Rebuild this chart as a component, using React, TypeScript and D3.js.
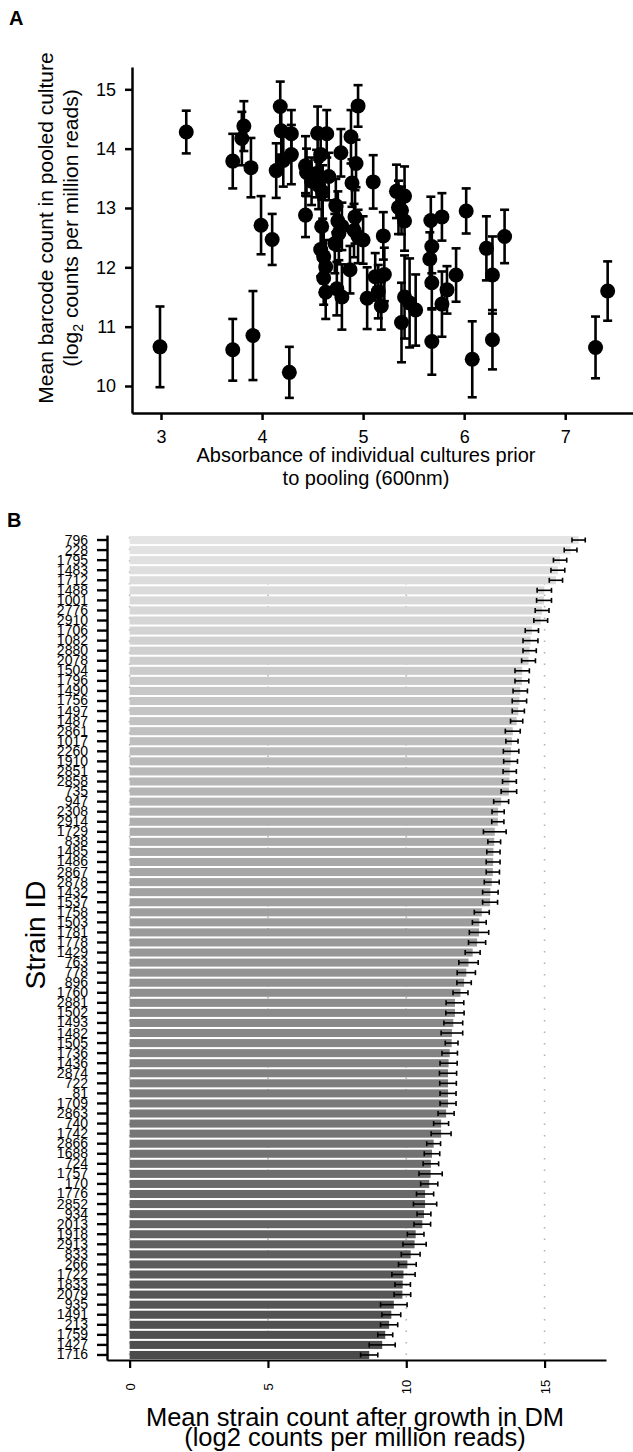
import React, { useEffect, useRef } from "react";
import * as d3 from "d3";

const W = 633;
const H = 1452;
const FONT = "'Liberation Sans', Arial, Helvetica, sans-serif";

// Panel A: absorbance vs pooled barcode count
const absorbance = [
  2.99, 3.25, 3.71, 3.71, 3.82, 3.8, 3.89, 3.91, 3.99, 4.1, 4.18, 4.14, 4.19, 4.29,
  4.21, 4.29, 4.27, 4.43, 4.43, 4.44, 4.49, 4.55, 4.58, 4.54, 4.56, 4.6, 4.64, 4.66,
  4.59, 4.58, 4.61, 4.63, 4.61, 4.63, 4.73, 4.75, 4.76, 4.72, 4.78, 4.79, 4.74, 4.79,
  4.87, 4.88, 4.89, 4.93, 4.95, 4.92, 4.91, 4.95, 5.0, 5.1, 5.04, 5.12, 5.15, 5.18,
  5.21, 5.2, 5.33, 5.35, 5.38, 5.41, 5.41, 5.38, 5.41, 5.46, 5.52, 5.67, 5.68, 5.66,
  5.68, 5.68, 5.78, 5.78, 5.83, 5.92, 6.02, 6.08, 6.22, 6.28, 6.28, 6.4, 7.3, 7.42
];
const barcodeMean = [
  10.66, 14.28, 13.79, 10.61, 14.38, 14.17, 13.68, 10.85, 12.71, 12.47, 14.71, 13.63, 14.3, 14.25,
  13.8, 13.9, 10.23, 12.88, 13.71, 13.6, 13.45, 14.26, 13.9, 13.58, 13.38, 13.27, 14.25, 13.53,
  12.69, 12.3, 12.18, 12.01, 11.82, 11.58, 13.04, 12.78, 12.57, 12.4, 13.93, 12.69, 11.64, 11.5,
  11.96, 14.2, 13.42, 13.75, 14.72, 12.85, 12.62, 12.52, 12.46, 13.44, 11.48, 11.84, 11.59, 11.35,
  11.88, 12.53, 13.28, 13.01, 12.96, 13.2, 12.78, 11.07, 11.5, 11.4, 11.28, 12.79, 12.35, 12.14,
  11.74, 10.75, 12.85, 11.38, 11.62, 11.87, 12.95, 10.45, 12.32, 11.87, 10.78, 12.52, 10.65, 11.6
];
const barcodeErr = [
  0.68, 0.36, 0.46, 0.52, 0.42, 0.45, 0.5, 0.75, 0.49, 0.43, 0.42, 0.46, 0.4, 0.4,
  0.44, 0.5, 0.43, 0.37, 0.5, 0.4, 0.4, 0.45, 0.4, 0.4, 0.4, 0.45, 0.4, 0.4,
  0.45, 0.45, 0.45, 0.45, 0.45, 0.45, 0.45, 0.5, 0.45, 0.5, 0.4, 0.4, 0.45, 0.55,
  0.4, 0.45, 0.4, 0.4, 0.35, 0.45, 0.45, 0.45, 0.4, 0.45, 0.52, 0.4, 0.45, 0.4,
  0.45, 0.4, 0.45, 0.45, 0.4, 0.5, 0.5, 0.67, 0.7, 0.75, 0.6, 0.4, 0.45, 0.45,
  0.45, 0.56, 0.4, 0.55, 0.4, 0.45, 0.38, 0.64, 0.54, 0.65, 0.5, 0.45, 0.52, 0.5
];
const absTicks = [3, 4, 5, 6, 7];
const barcodeTicks = [10, 11, 12, 13, 14, 15];

// Panel B: strain counts after growth in DM
const strainIds = [
  "796", "228", "1795", "1483", "1712", "1488", "1001", "2776", "2910", "1706", "1082", "2880",
  "2078", "1504", "1796", "1490", "1756", "1497", "1487", "2861", "1017", "2260", "1910", "2851",
  "2858", "735", "947", "2308", "2914", "1729", "838", "1485", "1486", "2867", "2878", "1432",
  "1537", "1758", "1503", "1781", "1778", "1429", "763", "778", "896", "1760", "2881", "1502",
  "1493", "1482", "1505", "1736", "1436", "2874", "722", "81", "1709", "2863", "740", "1742",
  "2866", "1688", "724", "1757", "170", "1776", "2852", "934", "2013", "1918", "2913", "833",
  "266", "1722", "1833", "2079", "935", "1491", "213", "1759", "1427", "1716"
];
const strainMean = [
  16.23, 15.94, 15.56, 15.48, 15.41, 14.99, 14.98, 14.91, 14.86, 14.54, 14.49, 14.46,
  14.42, 14.19, 14.18, 14.12, 14.09, 14.05, 13.99, 13.85, 13.82, 13.79, 13.77, 13.74,
  13.73, 13.71, 13.43, 13.32, 13.31, 13.2, 13.18, 13.15, 13.14, 13.13, 13.09, 13.04,
  13.03, 12.73, 12.64, 12.63, 12.56, 12.4, 12.25, 12.17, 12.09, 11.96, 11.76, 11.76,
  11.7, 11.65, 11.64, 11.57, 11.53, 11.51, 11.51, 11.51, 11.51, 11.44, 11.26, 11.26,
  10.99, 10.93, 10.89, 10.88, 10.83, 10.68, 10.68, 10.64, 10.58, 10.34, 10.3, 10.16,
  10.04, 9.9, 9.87, 9.86, 9.55, 9.46, 9.38, 9.24, 9.13, 8.66
];
const strainErr = [
  0.24, 0.23, 0.24, 0.25, 0.24, 0.26, 0.27, 0.25, 0.25, 0.24, 0.27, 0.24,
  0.25, 0.26, 0.25, 0.26, 0.26, 0.22, 0.22, 0.27, 0.22, 0.28, 0.25, 0.24,
  0.25, 0.28, 0.27, 0.22, 0.22, 0.41, 0.23, 0.24, 0.25, 0.24, 0.27, 0.28,
  0.27, 0.27, 0.25, 0.35, 0.31, 0.27, 0.35, 0.33, 0.26, 0.27, 0.32, 0.33,
  0.34, 0.39, 0.23, 0.28, 0.31, 0.31, 0.3, 0.29, 0.29, 0.29, 0.27, 0.36,
  0.25, 0.28, 0.28, 0.42, 0.31, 0.31, 0.42, 0.25, 0.3, 0.3, 0.42, 0.34,
  0.32, 0.42, 0.28, 0.3, 0.48, 0.34, 0.31, 0.27, 0.47, 0.31
];
const countTicks = [0, 5, 10, 15];

const xA = d3.scaleLinear().domain([2.713, 7.74]).range([132, 640]);
const yA = d3.scaleLinear().domain([9.545, 15.376]).range([413, 67]);

const xB = d3.scaleLinear().domain([-0.818, 17.22]).range([107, 606]);
const yB = d3.scaleBand().domain(strainIds).range([535, 1360]).paddingInner(0.2).paddingOuter(0.1);
const shade = d3.scaleLinear<string>().domain([0, strainIds.length - 1]).range(["#e4e4e4", "#4b4b4b"]);

function styleAxis(g, size, width) {
  g.attr("font-family", FONT).attr("font-size", size);
  g.selectAll("path").attr("stroke", "#000").attr("stroke-width", width);
  g.selectAll("line").attr("stroke", "#000").attr("stroke-width", width);
  g.selectAll("text").attr("fill", "#000");
}

export default function App() {
  const axBottom = useRef(null);
  const axLeft = useRef(null);
  const bxBottom = useRef(null);
  const bxLeft = useRef(null);

  useEffect(() => {
    const ga = d3.select(axBottom.current)
      .call(d3.axisBottom(xA).tickValues(absTicks).tickFormat(d3.format("d"))
        .tickSizeInner(7).tickSizeOuter(0).tickPadding(10));
    styleAxis(ga, 18, 2.5);

    const gl = d3.select(axLeft.current)
      .call(d3.axisLeft(yA).tickValues(barcodeTicks).tickFormat(d3.format("d"))
        .tickSizeInner(7).tickSizeOuter(0).tickPadding(9));
    styleAxis(gl, 18, 2.5);

    const gb = d3.select(bxBottom.current)
      .call(d3.axisBottom(xB).tickValues(countTicks).tickFormat(d3.format("d"))
        .tickSizeInner(8).tickSizeOuter(0));
    styleAxis(gb, 13, 2.2);
    gb.selectAll("text")
      .attr("transform", "rotate(-90)")
      .attr("x", -27)
      .attr("y", 0)
      .attr("dy", "0.35em")
      .attr("text-anchor", "middle");

    // strain labels overlap in the original figure too (10px rows)
    const gbl = d3.select(bxLeft.current)
      .call(d3.axisLeft(yB).tickSizeInner(10).tickSizeOuter(0).tickPadding(9));
    styleAxis(gbl, 14, 2.4);
  }, []);

  const capA = 4.5;
  const capB = 2.5;

  return (
    <div style={{ position: "absolute", left: 0, top: 0 }}>
      <svg width={W} height={H} style={{ display: "block", background: "#fff" }} fontFamily={FONT}>
        {/* Panel A */}
        <text x={9} y={25} fontSize={20} fontWeight="bold">A</text>
        <g>
          {absorbance.map((a, i) => {
            const cx = xA(a);
            const lo = yA(barcodeMean[i] - barcodeErr[i]);
            const hi = yA(barcodeMean[i] + barcodeErr[i]);
            return (
              <g key={"e" + i} stroke="#000" strokeWidth={2.6}>
                <line x1={cx} x2={cx} y1={lo} y2={hi} />
                <line x1={cx - capA} x2={cx + capA} y1={lo} y2={lo} />
                <line x1={cx - capA} x2={cx + capA} y1={hi} y2={hi} />
              </g>
            );
          })}
          {absorbance.map((a, i) => (
            <circle key={"p" + i} cx={xA(a)} cy={yA(barcodeMean[i])} r={7.5} fill="#000" />
          ))}
        </g>
        <g ref={axBottom} transform={`translate(0,${yA.range()[0]})`} />
        <g ref={axLeft} transform={`translate(${xA.range()[0]},0)`} />
        <text transform="translate(53,228) rotate(-90)" textAnchor="middle" fontSize={21}>
          Mean barcode count in pooled culture
        </text>
        <text transform="translate(78,228) rotate(-90)" textAnchor="middle" fontSize={21}>
          (log<tspan fontSize={14} dy={5}>2</tspan><tspan dy={-5}> counts per million reads)</tspan>
        </text>
        <text x={366} y={462} textAnchor="middle" fontSize={20}>Absorbance of individual cultures prior</text>
        <text x={366} y={485} textAnchor="middle" fontSize={20}>to pooling (600nm)</text>

        {/* Panel B */}
        <text x={7} y={527} fontSize={20} fontWeight="bold">B</text>
        <g>
          {countTicks.map((t) => (
            <line key={"g" + t} x1={xB(t)} x2={xB(t)} y1={537} y2={1358}
              stroke="#b4b4b4" strokeWidth={1.6} strokeDasharray="1.5,10" />
          ))}
          {strainIds.map((id, i) => (
            <rect key={"b" + id} x={xB(0)} y={yB(id)} width={xB(strainMean[i]) - xB(0)}
              height={yB.bandwidth()} fill={shade(i)} />
          ))}
          {strainIds.map((id, i) => {
            const cy = yB(id) + yB.bandwidth() / 2;
            const lo = xB(strainMean[i] - strainErr[i]);
            const hi = xB(strainMean[i] + strainErr[i]);
            return (
              <g key={"be" + id} stroke="#000" strokeWidth={1.6}>
                <line x1={lo} x2={hi} y1={cy} y2={cy} />
                <line x1={lo} x2={lo} y1={cy - capB} y2={cy + capB} />
                <line x1={hi} x2={hi} y1={cy - capB} y2={cy + capB} />
              </g>
            );
          })}
        </g>
        <g ref={bxBottom} transform={`translate(0,${yB.range()[1]})`} />
        <g ref={bxLeft} transform={`translate(${xB.range()[0]},0)`} />
        <text transform="translate(45,935) rotate(-90)" textAnchor="middle" fontSize={28}>Strain ID</text>
        <text x={355} y={1426} textAnchor="middle" fontSize={25.5}>Mean strain count after growth in DM</text>
        <text x={355} y={1446} textAnchor="middle" fontSize={25.5}>(log2 counts per million reads)</text>
      </svg>
    </div>
  );
}
